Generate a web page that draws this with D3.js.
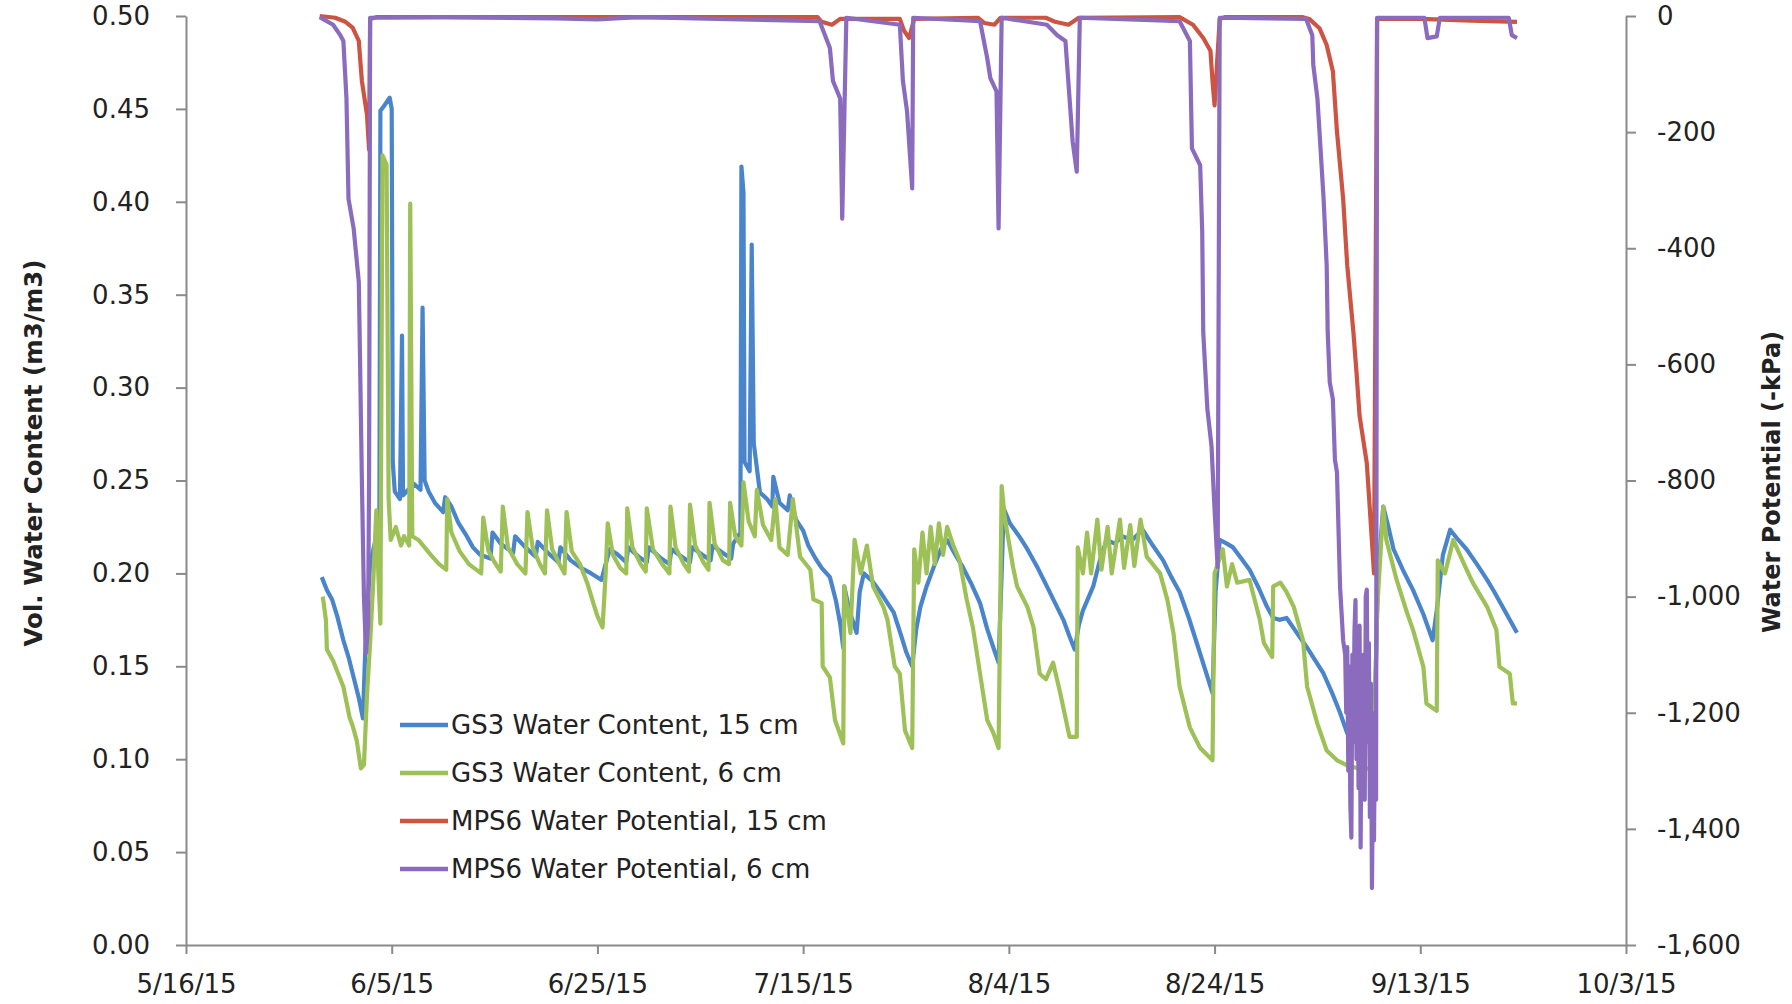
<!DOCTYPE html>
<html>
<head>
<meta charset="utf-8">
<script src="https://cdn.jsdelivr.net/npm/d3@7"></script>
<style>
  html, body { margin: 0; padding: 0; background: #fff; }
  svg text { font-family: "DejaVu Sans", sans-serif; fill: #222; }
</style>
</head>
<body>
<div id="chart"></div>
<script>
// days after 5/16/15, value
const gs3Deep = [[13.2,0.198],[13.7,0.191],[14.2,0.186],[14.7,0.177],[15.3,0.164],[15.8,0.155],[16.3,0.144],[16.8,0.133],[17.2,0.122],
  [17.5,0.170],[17.9,0.205],[18.3,0.215],[18.8,0.225],[18.9,0.449],[19.3,0.452],[19.8,0.456],[20.0,0.45],[20.1,0.26],[20.3,0.244],
  [20.8,0.24],[21.0,0.328],[21.1,0.242],[21.6,0.245],[22.2,0.248],[22.8,0.245],[23.0,0.343],[23.2,0.25],[23.6,0.244],[24.2,0.238],
  [25.0,0.233],[25.2,0.241],[25.8,0.236],[26.5,0.227],[27.3,0.22],[27.9,0.214],[28.6,0.21],[29.6,0.208],[29.8,0.222],[30.6,0.216],
  [31.8,0.211],[32.0,0.22],[33.0,0.214],[34.0,0.209],[34.2,0.217],[35.2,0.211],[36.2,0.206],[36.4,0.214],[37.4,0.207],[38.4,0.203],
  [39.4,0.2],[40.4,0.1965],[40.8,0.205],[41.2,0.213],[42,0.21],[42.8,0.206],[43,0.214],[44,0.209],[44.8,0.206],[45,0.214],[46.2,0.208],
  [47,0.205],[47.2,0.213],[48.2,0.209],[49,0.206],[49.2,0.214],[50.2,0.21],[51,0.207],[51.2,0.215],[52.2,0.211],[53,0.208],[53.2,0.216],
  [53.9,0.222],[54.0,0.419],[54.2,0.405],[54.3,0.26],[54.8,0.255],[55.0,0.377],[55.2,0.27],[55.8,0.2435],[56.5,0.24],[57.0,0.236],
  [57.1,0.252],[57.7,0.238],[58.5,0.234],[58.7,0.242],[59.3,0.229],[60.0,0.223],[60.5,0.215],[61.2,0.208],[61.8,0.203],[62.6,0.198],
  [63.2,0.185],[63.6,0.173],[63.9,0.16],[64.0,0.193],[64.5,0.18],[65.2,0.168],[65.5,0.19],[65.9,0.2],[66.7,0.196],[67.5,0.19],
  [68.2,0.184],[68.8,0.179],[69.5,0.167],[70.0,0.158],[70.6,0.15],[71.0,0.17],[71.4,0.182],[72,0.193],[72.8,0.205],[73.4,0.213],
  [74,0.218],[74.8,0.21],[75.5,0.2036],[76.3,0.195],[77.2,0.184],[77.9,0.17],[78.5,0.16],[79,0.152],[79.3,0.2],[79.5,0.235],
  [80.1,0.227],[81,0.22],[81.8,0.213],[82.8,0.203],[83.7,0.193],[84.5,0.184],[85.3,0.175],[85.9,0.166],[86.4,0.159],[86.8,0.172],
  [87.2,0.18],[88.2,0.193],[88.8,0.206],[89.5,0.218],[90.3,0.216],[91,0.22],[92,0.218],[93,0.2235],[94,0.215],[95,0.207],[95.8,0.198],
  [96.6,0.19],[97.5,0.176],[98.3,0.162],[99.1,0.148],[99.8,0.1355],[100.1,0.19],[100.5,0.218],[101.2,0.216],[101.8,0.214],[102.6,0.208],
  [103.4,0.202],[104.3,0.192],[105.1,0.182],[105.7,0.176],[106.3,0.175],[107,0.176],[108,0.168],[109,0.16],[109.8,0.153],[110.6,0.146],
  [111.4,0.136],[112.2,0.125],[112.9,0.114],[113.8,0.112],[114.8,0.11],[115.5,0.112],[115.9,0.2],[116.4,0.236],[116.9,0.225],
  [117.4,0.213],[118.3,0.202],[119.3,0.191],[120.3,0.178],[121.2,0.164],[121.6,0.18],[122.2,0.21],[122.9,0.2235],[123.7,0.218],
  [124.5,0.213],[125.5,0.205],[126.5,0.1965],[127.2,0.19],[128,0.182],[128.7,0.175],[129.4,0.168]];

const gs3Shallow = [[13.3,0.1875],[13.6,0.175],[13.7,0.159],[14.3,0.153],[14.8,0.146],[15.3,0.139],[15.9,0.1226],[16.2,0.118],[16.6,0.11],
  [17.0,0.095],[17.3,0.097],[17.6,0.135],[17.9,0.1625],[18.2,0.195],[18.5,0.234],[18.7,0.2],[18.9,0.173],[19.0,0.3],[19.1,0.425],
  [19.5,0.42],[19.7,0.24],[19.9,0.218],[20.4,0.225],[20.9,0.215],[21.2,0.22],[21.7,0.215],[21.8,0.399],[22.0,0.22],[22.6,0.218],
  [23.2,0.214],[23.8,0.21],[24.6,0.205],[25.3,0.202],[25.4,0.24],[25.8,0.222],[26.6,0.212],[27.5,0.205],[28.7,0.2],[28.9,0.23],
  [29.4,0.212],[30.0,0.206],[30.6,0.201],[30.8,0.236],[31.3,0.214],[32.2,0.205],[33.0,0.2],[33.2,0.233],[33.7,0.214],[34.4,0.205],
  [34.9,0.2],[35.1,0.234],[35.6,0.213],[36.4,0.204],[36.8,0.2],[37.0,0.233],[37.5,0.212],[38.3,0.205],[39.0,0.195],[39.6,0.184],
  [40.0,0.177],[40.5,0.171],[40.8,0.2],[41.0,0.227],[41.5,0.21],[42.2,0.203],[42.8,0.2],[42.9,0.235],[43.4,0.214],[44.2,0.205],
  [44.7,0.201],[44.8,0.235],[45.4,0.213],[46.3,0.205],[47.0,0.2],[47.1,0.236],[47.6,0.214],[48.4,0.205],[48.9,0.201],[49.0,0.237],
  [49.5,0.215],[50.3,0.206],[50.8,0.202],[50.9,0.238],[51.4,0.216],[52.2,0.207],[52.8,0.205],[52.9,0.238],[53.4,0.22],[54.0,0.215],
  [54.2,0.249],[54.7,0.228],[55.3,0.22],[55.5,0.245],[56.1,0.226],[56.9,0.218],[57.3,0.24],[57.7,0.214],[58.5,0.21],[59.0,0.24],
  [59.7,0.209],[60.7,0.202],[61.0,0.186],[61.8,0.184],[61.9,0.15],[62.6,0.144],[63.1,0.121],[63.9,0.1085],[64.0,0.193],[64.6,0.168],
  [65.0,0.218],[65.6,0.2],[66.2,0.215],[66.8,0.193],[67.8,0.182],[68.2,0.175],[68.9,0.15],[69.4,0.146],[69.9,0.1155],[70.6,0.106],
  [70.8,0.213],[71.2,0.195],[71.6,0.222],[72.0,0.2],[72.4,0.225],[72.8,0.205],[73.2,0.227],[73.6,0.21],[74.0,0.225],[74.6,0.215],
  [75.2,0.207],[75.9,0.186],[76.5,0.171],[77.2,0.146],[77.9,0.121],[78.5,0.114],[79.0,0.106],[79.3,0.247],[79.6,0.23],[80.4,0.2036],
  [80.8,0.193],[81.8,0.182],[82.4,0.171],[83.0,0.146],[83.6,0.143],[84.3,0.152],[85.0,0.1355],[85.9,0.112],[86.6,0.112],[86.7,0.214],
  [87.2,0.2],[87.6,0.222],[88.0,0.2],[88.6,0.229],[89.0,0.202],[89.6,0.225],[90.0,0.2],[90.8,0.229],[91.2,0.203],[91.8,0.226],
  [92.2,0.204],[92.8,0.229],[93.4,0.209],[94.7,0.2],[95.4,0.186],[96.0,0.168],[96.6,0.139],[97.6,0.117],[98.6,0.106],[99.8,0.0994],
  [100.0,0.2],[100.8,0.213],[101.2,0.193],[101.7,0.205],[102.2,0.195],[103.4,0.1965],[104.4,0.175],[104.8,0.1625],[105.6,0.155],
  [105.7,0.193],[106.4,0.195],[107,0.19],[107.7,0.182],[108.6,0.164],[109.0,0.139],[110.0,0.119],[110.9,0.1047],[111.9,0.0994],
  [112.9,0.0967],[114.0,0.095],[115.5,0.095],[115.8,0.18],[116.4,0.236],[116.7,0.218],[117.7,0.1965],[118.7,0.179],[119.3,0.1695],
  [120.3,0.1497],[120.6,0.13],[121.6,0.126],[121.7,0.207],[122.4,0.2],[123.2,0.218],[124.2,0.2057],[125.1,0.195],[126.5,0.182],
  [127.4,0.1695],[127.7,0.1497],[128.7,0.146],[129.0,0.13],[129.4,0.13]];

const mpsDeep = [[13,0],[14.5,-3],[15.5,-10],[16.2,-20],[16.8,-43],[17.1,-112],[17.6,-171],[17.8,-230],[17.9,-5],[18.5,-2],[30,-2],
  [61.4,-2],[61.8,-10],[62.8,-15],[63.6,-5],[69.4,-5],[69.8,-25],[70.3,-38],[70.8,-5],[77.0,-3],[77.6,-12],[78.6,-15],[79.2,-3],
  [83.6,-3],[84.5,-10],[85.8,-15],[86.8,-3],[96.6,-2],[97.9,-15],[98.9,-38],[99.6,-60],[99.8,-112],[100.0,-154],[100.5,-5],[101,-2],
  [108.6,-2],[109.2,-5],[110.2,-21],[110.9,-50],[111.5,-95],[111.9,-199],[112.5,-315],[112.9,-430],[113.5,-545],[113.8,-614],
  [114.1,-689],[114.8,-770],[115.1,-850],[115.5,-960],[115.8,-5],[120,-5],[125,-8],[129.4,-10]];

const mpsShallow = [[13,-2],[14.3,-15],[15.0,-33],[15.3,-43],[15.6,-142],[15.8,-315],[16.3,-366],[16.8,-458],[16.9,-568],[17.1,-800],
  [17.3,-1000],[17.5,-1097],[17.7,-1050],[17.8,-800],[17.9,-3],[25,-2],[36,-4],[40,-6],[44,-2],[61.6,-9],[62.6,-55],[62.9,-112],
  [63.6,-142],[63.8,-349],[64.2,-3],[69.4,-15],[69.7,-112],[70.1,-164],[70.6,-297],[70.7,-3],[77.2,-9],[77.9,-73],[78.2,-107],
  [78.8,-130],[79.0,-366],[79.3,-3],[83.7,-15],[84.7,-33],[85.5,-43],[85.9,-142],[86.2,-216],[86.6,-268],[86.9,-3],[96.6,-9],
  [97.6,-43],[97.8,-228],[98.6,-257],[98.8,-372],[98.9,-545],[99.3,-677],[99.7,-740],[100.0,-850],[100.3,-949],[100.5,-3],
  [108.9,-5],[109.5,-33],[109.6,-85],[110.0,-142],[110.2,-199],[110.6,-315],[110.9,-430],[111.0,-545],[111.2,-631],[111.5,-660],
  [111.7,-764],[111.9,-786],[112.2,-983],[112.5,-1075],[112.7,-1100],[112.8,-1200],[112.9,-1087],[113.0,-1300],[113.1,-1120],
  [113.2,-1360],[113.3,-1415],[113.4,-1100],[113.5,-1250],[113.6,-1060],[113.7,-1006],[113.8,-1280],[113.9,-1120],[114.0,-1330],
  [114.1,-1050],[114.2,-1432],[114.3,-1150],[114.4,-1300],[114.5,-1100],[114.6,-1350],[114.7,-1000],[114.8,-988],[114.9,-1250],
  [115.0,-1080],[115.1,-1380],[115.2,-1150],[115.3,-1502],[115.4,-1300],[115.5,-1420],[115.6,-1200],[115.7,-1350],[115.8,-3],
  [120.4,-3],[120.7,-38],[121.6,-35],[121.9,-3],[128.6,-3],[128.9,-33],[129.4,-38]];

const seriesNames = ["GS3 Water Content, 15 cm", "GS3 Water Content, 6 cm", "MPS6 Water Potential, 15 cm", "MPS6 Water Potential, 6 cm"];
const seriesColors = ["#4a85cc", "#9dc057", "#cc5443", "#8a6bbe"];
const leftTicks = [0, 0.05, 0.10, 0.15, 0.20, 0.25, 0.30, 0.35, 0.40, 0.45, 0.50];
const rightTicks = [0, -200, -400, -600, -800, -1000, -1200, -1400, -1600];

const width = 1792, height = 1004;
const startDate = new Date(2015, 4, 16);
const endDate = new Date(2015, 9, 3);
const toDate = t => new Date(startDate.getTime() + t * 864e5);

const svg = d3.select("#chart").append("svg")
  .attr("width", width)
  .attr("height", height);

const x = d3.scaleTime().domain([startDate, endDate]).range([186, 1626]);
const yL = d3.scaleLinear().domain([0, 0.5]).range([945, 16]);
const yR = d3.scaleLinear().domain([-1600, 0]).range([945, 16]);

const xTicks = d3.timeDay.range(startDate, d3.timeDay.offset(endDate, 1), 20);

// axes
const axisColor = "#8a8a8a";
function styleAxis(g) {
  g.select(".domain").attr("stroke", axisColor).attr("stroke-width", 2);
  g.selectAll(".tick line").attr("stroke", axisColor).attr("stroke-width", 2);
  g.selectAll(".tick text").style("font-size", "26px").attr("fill", "#222");
}

svg.append("g")
  .attr("transform", "translate(186,0)")
  .call(d3.axisLeft(yL).tickValues(leftTicks).tickFormat(d3.format(".2f"))
    .tickSize(10).tickSizeOuter(0).tickPadding(26))
  .call(styleAxis);

svg.append("g")
  .attr("transform", "translate(1626,0)")
  .call(d3.axisRight(yR).tickValues(rightTicks)
    .tickFormat(d => d3.format(",")(d).replace("\u2212", "-"))
    .tickSize(10).tickSizeOuter(0).tickPadding(21))
  .call(styleAxis);

svg.append("g")
  .attr("transform", "translate(0,945)")
  .call(d3.axisBottom(x).tickValues(xTicks).tickFormat(d3.timeFormat("%-m/%-d/%y"))
    .tickSize(9).tickSizeOuter(0).tickPadding(21))
  .call(styleAxis);

// axis titles
svg.append("text")
  .attr("transform", "translate(33,453) rotate(-90)")
  .attr("text-anchor", "middle")
  .attr("dy", "0.35em")
  .style("font-size", "24.5px")
  .style("font-weight", "bold")
  .text("Vol. Water Content (m3/m3)");

svg.append("text")
  .attr("transform", "translate(1772,482) rotate(-90)")
  .attr("text-anchor", "middle")
  .attr("dy", "0.35em")
  .style("font-size", "24px")
  .style("font-weight", "bold")
  .text("Water Potential (-kPa)");

// lines
const lineL = d3.line().x(d => x(toDate(d[0]))).y(d => yL(d[1]));
const lineR = d3.line().x(d => x(toDate(d[0]))).y(d => yR(d[1]));

const plotted = [
  { data: gs3Deep, line: lineL },
  { data: gs3Shallow, line: lineL },
  { data: mpsDeep, line: lineR },
  { data: mpsShallow, line: lineR }
];

plotted.forEach((s, i) => {
  svg.append("path")
    .datum(s.data)
    .attr("fill", "none")
    .attr("stroke", seriesColors[i])
    .attr("stroke-width", 4.2)
    .attr("stroke-linejoin", "round")
    .attr("d", s.line);
});

// legend
const legend = svg.append("g").attr("transform", "translate(400,725)");
seriesNames.forEach((name, i) => {
  const row = legend.append("g").attr("transform", `translate(0,${i * 48})`);
  row.append("line")
    .attr("x1", 0).attr("x2", 48)
    .attr("stroke", seriesColors[i])
    .attr("stroke-width", 4.5);
  row.append("text")
    .attr("x", 51)
    .attr("dy", "0.36em")
    .style("font-size", "26px")
    .text(name);
});
</script>
</body>
</html>
